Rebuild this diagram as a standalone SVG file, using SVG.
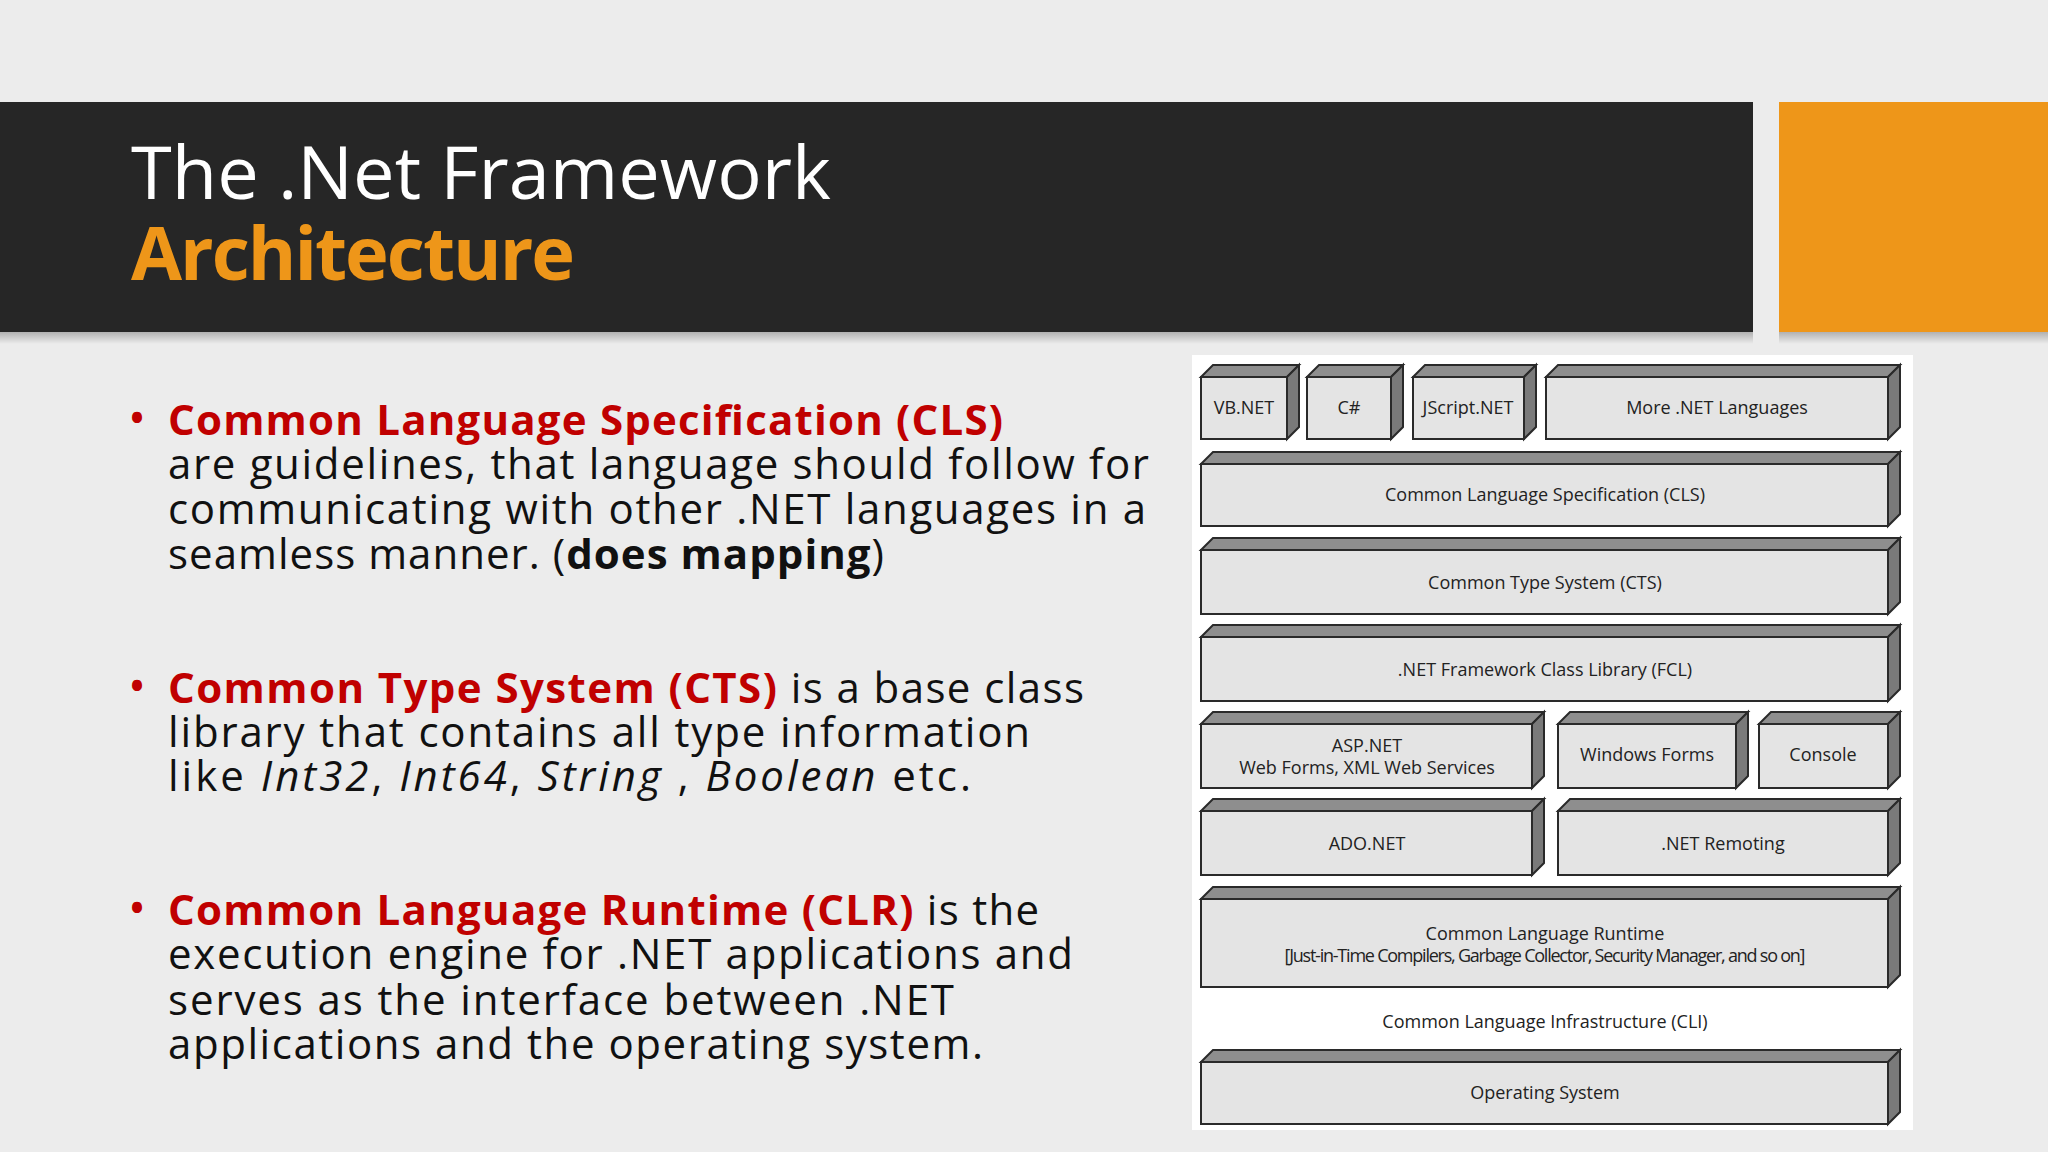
<svg xmlns="http://www.w3.org/2000/svg" width="2048" height="1152" viewBox="0 0 2048 1152">
<defs>
<style>
.f{fill:#e4e4e4;stroke:#2a2a2a;stroke-width:2}
.t{fill:#8e8e8e;stroke:#2a2a2a;stroke-width:2}
.s{fill:#7a7a7a;stroke:#2a2a2a;stroke-width:2}
.l{font-family:"Open Sans","DejaVu Sans",sans-serif;font-size:18px;fill:#222;text-anchor:middle}
.b{font-family:"Open Sans","DejaVu Sans",sans-serif;font-size:42px;fill:#111}
.r{fill:#c00000}
</style>
<linearGradient id="sh" x1="0" y1="0" x2="0" y2="1"><stop offset="0" stop-color="#000" stop-opacity="0.25"/><stop offset="1" stop-color="#000" stop-opacity="0"/></linearGradient>
</defs>
<rect width="2048" height="1152" fill="#ececec"/>
<rect x="0" y="332" width="1753" height="12" fill="url(#sh)"/>
<rect x="1779" y="332" width="269" height="12" fill="url(#sh)"/>
<rect x="0" y="102" width="1753" height="230" fill="#262626"/>
<rect x="1779" y="102" width="269" height="230" fill="#ee9619"/>
<text x="131" y="199" font-family="'Open Sans','DejaVu Sans',sans-serif" font-size="74" fill="#fff">The .Net Framework</text>
<text x="131" y="280" font-family="'Open Sans','DejaVu Sans',sans-serif" font-size="74" font-weight="bold" fill="#ee9619" textLength="444">Architecture</text>

<g id="bullets">
<text x="128" y="435" font-family="'Open Sans','DejaVu Sans',sans-serif" font-size="48" fill="#c00000">•</text>
<text x="168" y="435" class="b r" font-weight="bold" textLength="835">Common Language Specification (CLS)</text>
<text x="168" y="479" class="b" textLength="981">are guidelines, that language should follow for</text>
<text x="168" y="524" class="b" textLength="978">communicating with other .NET languages in a</text>
<text x="168" y="569" class="b" textLength="716">seamless manner. (<tspan font-weight="bold">does mapping</tspan>)</text>
<text x="128" y="703" font-family="'Open Sans','DejaVu Sans',sans-serif" font-size="48" fill="#c00000">•</text>
<text x="168" y="703" class="b" textLength="916"><tspan class="r" font-weight="bold">Common Type System (CTS)</tspan> is a base class</text>
<text x="168" y="747" class="b" textLength="862">library that contains all type information</text>
<text x="168" y="791" class="b" textLength="803">like <tspan font-style="italic">Int32</tspan>, <tspan font-style="italic">Int64</tspan>, <tspan font-style="italic">String</tspan> , <tspan font-style="italic">Boolean</tspan> etc.</text>
<text x="128" y="925" font-family="'Open Sans','DejaVu Sans',sans-serif" font-size="48" fill="#c00000">•</text>
<text x="168" y="925" class="b" textLength="871"><tspan class="r" font-weight="bold">Common Language Runtime (CLR)</tspan> is the</text>
<text x="168" y="969" class="b" textLength="905">execution engine for .NET applications and</text>
<text x="168" y="1015" class="b" textLength="786">serves as the interface between .NET</text>
<text x="168" y="1059" class="b" textLength="815">applications and the operating system.</text>
</g>

<rect x="1192" y="355" width="721" height="775" fill="#ffffff"/>

<g id="vbnet"><rect class="f" x="1201" y="377" width="86" height="62"/><polygon class="t" points="1201,377 1213,365 1299,365 1287,377"/><polygon class="s" points="1287,377 1299,365 1299,427 1287,439"/><text class="l" x="1244" y="414">VB.NET</text></g>
<g id="csharp"><rect class="f" x="1307" y="377" width="84" height="62"/><polygon class="t" points="1307,377 1319,365 1403,365 1391,377"/><polygon class="s" points="1391,377 1403,365 1403,427 1391,439"/><text class="l" x="1349" y="414">C#</text></g>
<g id="jscript"><rect class="f" x="1413" y="377" width="111" height="62"/><polygon class="t" points="1413,377 1425,365 1536,365 1524,377"/><polygon class="s" points="1524,377 1536,365 1536,427 1524,439"/><text class="l" x="1468" y="414">JScript.NET</text></g>
<g id="more"><rect class="f" x="1546" y="377" width="342" height="62"/><polygon class="t" points="1546,377 1558,365 1900,365 1888,377"/><polygon class="s" points="1888,377 1900,365 1900,427 1888,439"/><text class="l" x="1717" y="414">More .NET Languages</text></g>
<g id="cls"><rect class="f" x="1201" y="464" width="687" height="62"/><polygon class="t" points="1201,464 1213,452 1900,452 1888,464"/><polygon class="s" points="1888,464 1900,452 1900,514 1888,526"/><text class="l" x="1545" y="501">Common Language Specification (CLS)</text></g>
<g id="cts"><rect class="f" x="1201" y="550" width="687" height="64"/><polygon class="t" points="1201,550 1213,538 1900,538 1888,550"/><polygon class="s" points="1888,550 1900,538 1900,602 1888,614"/><text class="l" x="1545" y="589">Common Type System (CTS)</text></g>
<g id="fcl"><rect class="f" x="1201" y="637" width="687" height="64"/><polygon class="t" points="1201,637 1213,625 1900,625 1888,637"/><polygon class="s" points="1888,637 1900,625 1900,689 1888,701"/><text class="l" x="1545" y="676">.NET Framework Class Library (FCL)</text></g>
<g id="asp"><rect class="f" x="1201" y="724" width="331" height="64"/><polygon class="t" points="1201,724 1213,712 1544,712 1532,724"/><polygon class="s" points="1532,724 1544,712 1544,776 1532,788"/><text class="l" x="1367" y="752">ASP.NET</text><text class="l" x="1367" y="774">Web Forms, XML Web Services</text></g>
<g id="winforms"><rect class="f" x="1558" y="724" width="178" height="64"/><polygon class="t" points="1558,724 1570,712 1748,712 1736,724"/><polygon class="s" points="1736,724 1748,712 1748,776 1736,788"/><text class="l" x="1647" y="761">Windows Forms</text></g>
<g id="console"><rect class="f" x="1759" y="724" width="129" height="64"/><polygon class="t" points="1759,724 1771,712 1900,712 1888,724"/><polygon class="s" points="1888,724 1900,712 1900,776 1888,788"/><text class="l" x="1823" y="761">Console</text></g>
<g id="ado"><rect class="f" x="1201" y="811" width="331" height="64"/><polygon class="t" points="1201,811 1213,799 1544,799 1532,811"/><polygon class="s" points="1532,811 1544,799 1544,863 1532,875"/><text class="l" x="1367" y="850">ADO.NET</text></g>
<g id="remoting"><rect class="f" x="1558" y="811" width="330" height="64"/><polygon class="t" points="1558,811 1570,799 1900,799 1888,811"/><polygon class="s" points="1888,811 1900,799 1900,863 1888,875"/><text class="l" x="1723" y="850">.NET Remoting</text></g>
<g id="clr"><rect class="f" x="1201" y="899" width="687" height="88"/><polygon class="t" points="1201,899 1213,887 1900,887 1888,899"/><polygon class="s" points="1888,899 1900,887 1900,975 1888,987"/><text class="l" x="1545" y="940">Common Language Runtime</text><text class="l" x="1545" y="962" font-size="15" textLength="521">[Just-in-Time Compilers, Garbage Collector, Security Manager, and so on]</text></g>
<g id="cli"><text class="l" x="1545" y="1028">Common Language Infrastructure (CLI)</text></g>
<g id="os"><rect class="f" x="1201" y="1062" width="687" height="62"/><polygon class="t" points="1201,1062 1213,1050 1900,1050 1888,1062"/><polygon class="s" points="1888,1062 1900,1050 1900,1112 1888,1124"/><text class="l" x="1545" y="1099">Operating System</text></g>
<g id="connectors"/>
</svg>
